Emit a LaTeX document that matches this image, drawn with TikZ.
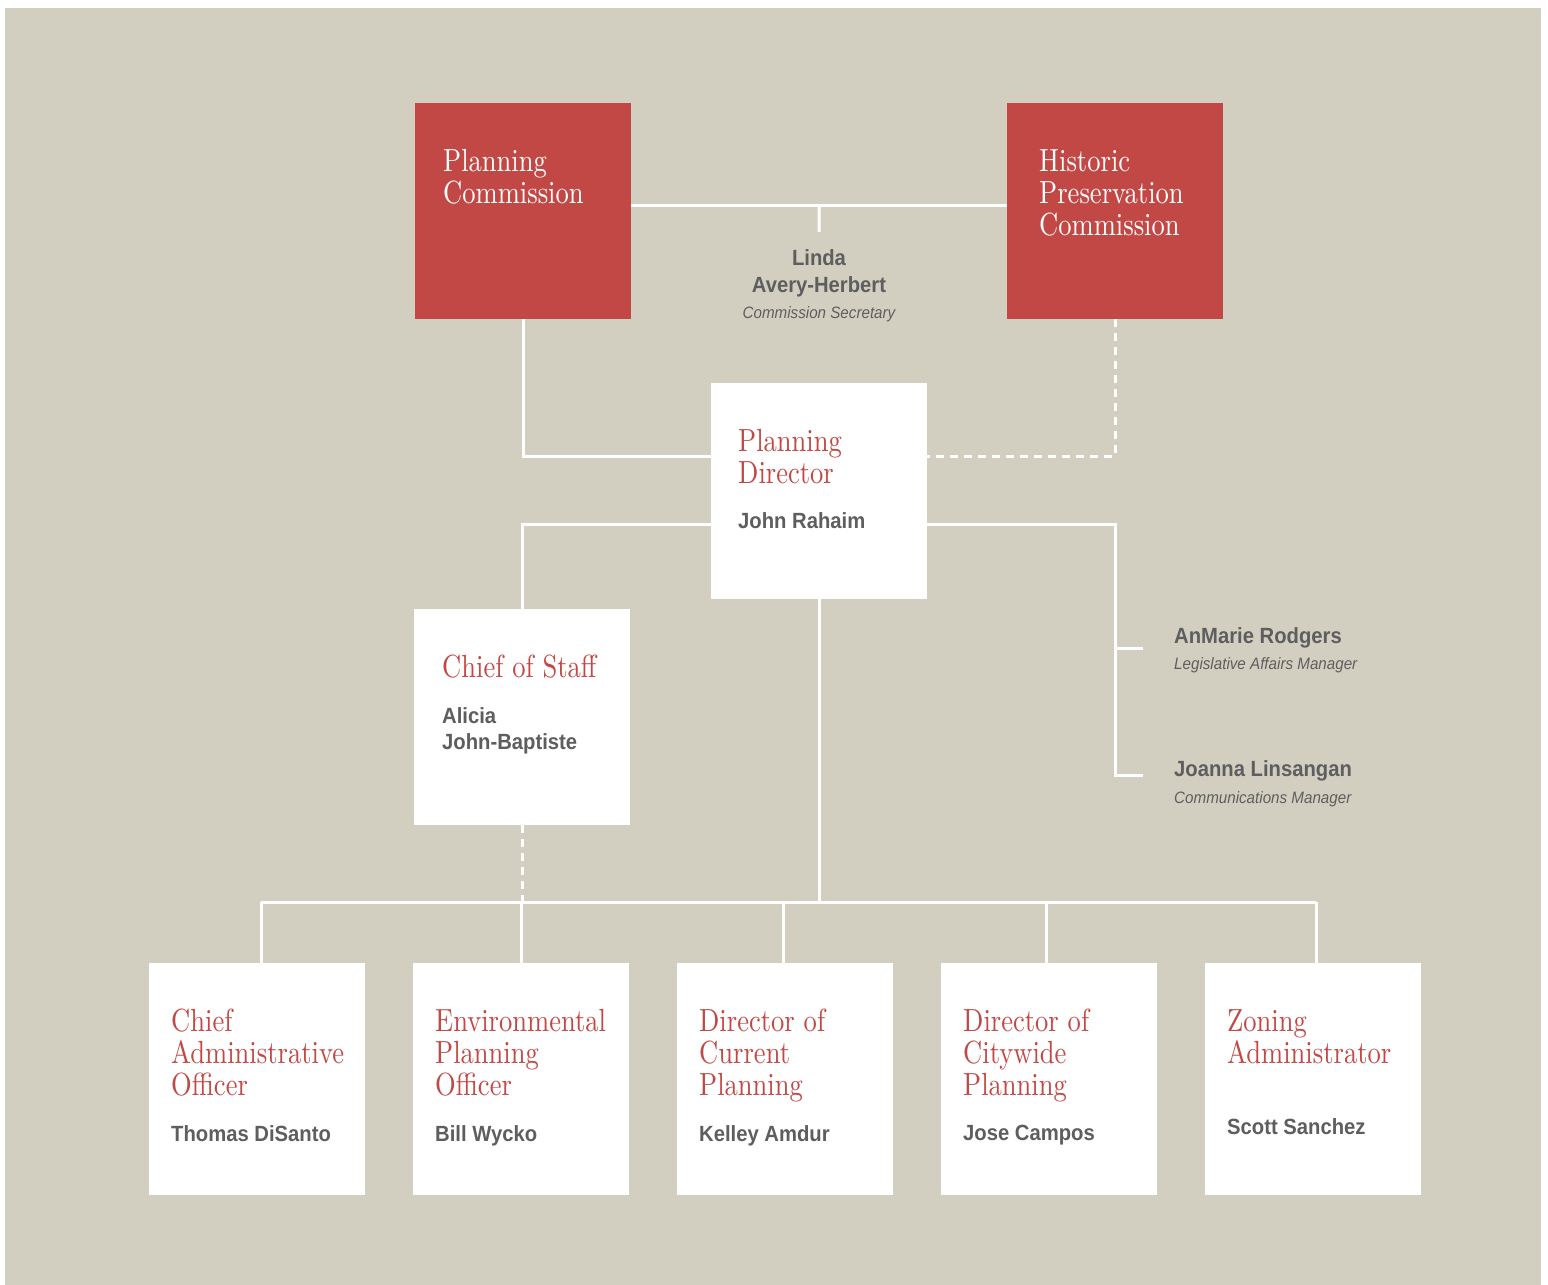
\documentclass[tikz,border=0pt]{standalone}
\usepackage{fontspec}
\newfontfamily\ttlfont{lmroman10-regular}[Extension=.otf, FakeStretch=0.83]
\newfontfamily\whofont{Liberation Sans}[FakeStretch=0.92]
\usetikzlibrary{positioning}
\definecolor{sfred}{RGB}{194,72,70}
\definecolor{sfsand}{RGB}{211,207,192}
\definecolor{sfgrey}{RGB}{94,94,96}

\tikzset{
	unit/.style={minimum width=216pt, minimum height=216pt, inner sep=0pt, anchor=north west},
	redunit/.style={unit, fill=sfred},
	whiteunit/.style={unit, fill=white},
	lowunit/.style={whiteunit, minimum height=232pt},
	ttl/.style={font=\ttlfont\fontsize{32}{32}\selectfont, text=sfred, align=left, inner sep=0pt, anchor=north west},
	ttlw/.style={ttl, text=white},
	who/.style={font=\whofont\bfseries\fontsize{22}{26}\selectfont, text=sfgrey, align=left, inner sep=0pt, anchor=north west},
	role/.style={font=\whofont\itshape\fontsize{16.5}{18}\selectfont, text=sfgrey, inner sep=0pt, anchor=base west},
	link/.style={draw=white, line width=3pt},
	dlink/.style={link, dash pattern=on 8pt off 6pt},
}

\begin{document}
\begin{tikzpicture}[x=1pt, y=-1pt]
	\useasboundingbox (0,0) rectangle (1548,1285);
	\fill[white] (0,0) rectangle (1548,1285);
	\fill[sfsand] (5,8) rectangle (1541,1285);

	% commissions
	\node[redunit] (pc) at (415,103) {};
	\node[redunit] (hpc) at (1007,103) {};
	\node[ttlw] (pctxt) at ([shift={(28,46)}]pc.north west) {Planning\\Commission};
	\node[ttlw] (hpctxt) at ([shift={(32,46)}]hpc.north west) {Historic\\Preservation\\Commission};

	% secretary
	\coordinate (sectop) at (819,232);
	\node[who, align=center, anchor=north, font=\whofont\bfseries\fontsize{22}{27}\selectfont] (sec) at (819,249) {Linda\\Avery-Herbert};
	\node[role, anchor=base] (secrole) at (819,318) {Commission Secretary};

	% director
	\node[whiteunit] (pd) at (711,383) {};
	\node[ttl] (pdtxt) at ([shift={(27,46)}]pd.north west) {Planning\\Director};
	\node[who] (pdwho) at ([shift={(27,129)}]pd.north west) {John Rahaim};

	% chief of staff
	\node[whiteunit] (cos) at (414,609) {};
	\node[ttl] (costxt) at ([shift={(28,46)}]cos.north west) {Chief of Staff};
	\node[who] (coswho) at ([shift={(28,98)}]cos.north west) {Alicia\\John-Baptiste};

	% staff to the director
	\coordinate (amt) at (1143,648);
	\coordinate (jlt) at (1143,775);
	\node[who] (amr) at ([shift={(31,-21)}]amt) {AnMarie Rodgers};
	\node[role] (amrrole) at ([shift={(31,21)}]amt) {Legislative Affairs Manager};
	\node[who] (jln) at ([shift={(31,-15)}]jlt) {Joanna Linsangan};
	\node[role] (jlnrole) at ([shift={(31,28)}]jlt) {Communications Manager};

	% divisions
	\node[lowunit] (cao) at (149,963) {};
	\node[lowunit] (epo) at (413,963) {};
	\node[lowunit] (dcp) at (677,963) {};
	\node[lowunit] (dcw) at (941,963) {};
	\node[lowunit] (za) at (1205,963) {};
	\node[ttl] (caotxt) at ([shift={(22,46)}]cao.north west) {Chief\\Administrative\\Officer};
	\node[ttl] (epotxt) at ([shift={(22,46)}]epo.north west) {Environmental\\Planning\\Officer};
	\node[ttl] (dcptxt) at ([shift={(22,46)}]dcp.north west) {Director of\\Current\\Planning};
	\node[ttl] (dcwtxt) at ([shift={(22,46)}]dcw.north west) {Director of\\Citywide\\Planning};
	\node[ttl] (zatxt) at ([shift={(22,46)}]za.north west) {Zoning\\Administrator};
	\node[who] (caowho) at ([shift={(22,162)}]cao.north west) {Thomas DiSanto};
	\node[who] (epowho) at ([shift={(22,162)}]epo.north west) {Bill Wycko};
	\node[who] (dcpwho) at ([shift={(22,162)}]dcp.north west) {Kelley Amdur};
	\node[who] (dcwwho) at ([shift={(22,162)}]dcw.north west) {Jose Campos};
	\node[who] (zawho) at ([shift={(22,155)}]za.north west) {Scott Sanchez};

	% connectors
	\path ([yshift=6pt]pc.east) -- ([yshift=6pt]hpc.west) coordinate[pos=.5] (mid);
	\draw[link] ([yshift=6pt]pc.east) -- ([yshift=6pt]hpc.west);
	\draw[link] (mid) -- (sectop);
	\draw[link] (pc.south) |- ([yshift=35pt]pd.west);
	\draw[dlink] (hpc.south) |- ([yshift=35pt]pd.east);
	\draw[link] ([yshift=-33pt]pd.west) -| (cos.north);
	\draw[link] ([yshift=-33pt]pd.east) -| (hpc.south |- jlt) -- (jlt);
	\draw[link] (hpc.south |- amt) -- (amt);
	\coordinate (bus) at (0,902);
	\draw[link] (pd.south) -- (pd.south |- bus);
	\draw[dlink] (cos.south) -- (cos.south |- bus);
	\draw[link] ([xshift=4pt]cao.north |- bus) -- ([xshift=3pt]za.north |- bus);
	\draw[link] ([xshift=4pt]cao.north) -- ([xshift=4pt]cao.north |- bus);
	\draw[link] (epo.north) -- (epo.north |- bus);
	\draw[link] ([xshift=-2pt]dcp.north) -- ([xshift=-2pt]dcp.north |- bus);
	\draw[link] ([xshift=-3pt]dcw.north) -- ([xshift=-3pt]dcw.north |- bus);
	\draw[link] ([xshift=3pt]za.north) -- ([xshift=3pt]za.north |- bus);
\end{tikzpicture}
\end{document}
